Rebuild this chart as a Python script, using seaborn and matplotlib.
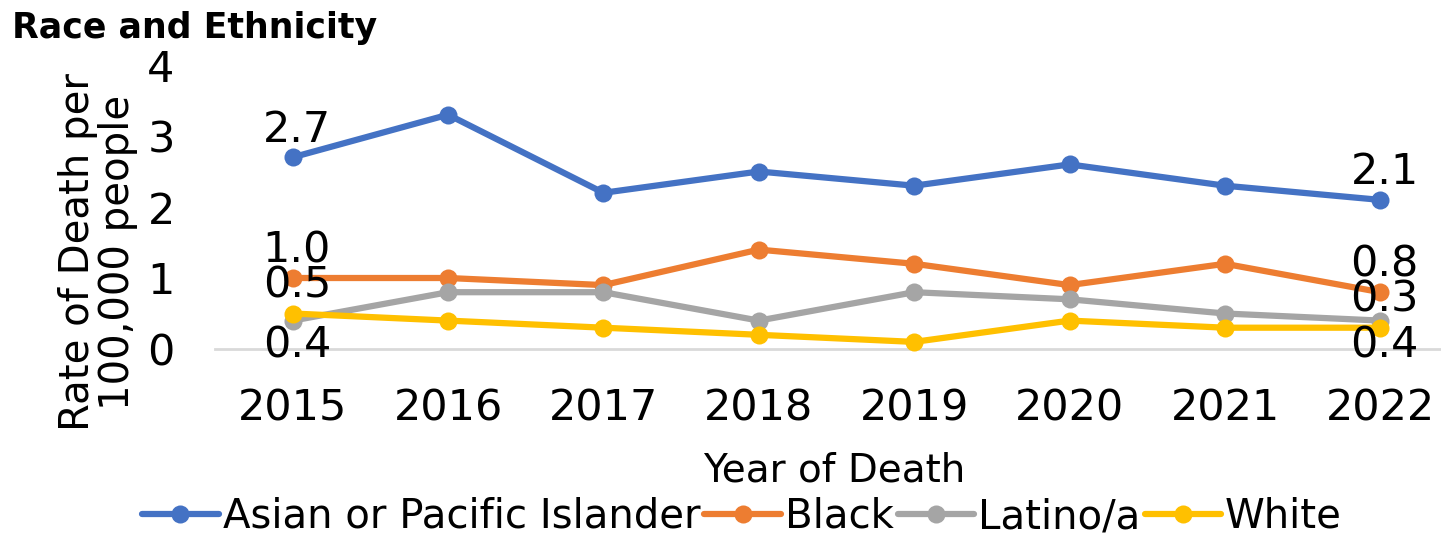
import matplotlib
matplotlib.use('Agg')
from matplotlib import pyplot as plt
import seaborn as sns
import pandas as pd

years = ['2015', '2016', '2017', '2018', '2019', '2020', '2021', '2022']
asian = [2.7, 3.3, 2.2, 2.5, 2.3, 2.6, 2.3, 2.1]
black = [1.0, 1.0, 0.9, 1.4, 1.2, 0.9, 1.2, 0.8]
latino = [0.4, 0.8, 0.8, 0.4, 0.8, 0.7, 0.5, 0.4]
white = [0.5, 0.4, 0.3, 0.2, 0.1, 0.4, 0.3, 0.3]
groups = ['Asian or Pacific Islander', 'Black', 'Latino/a', 'White']
colors = ['#4472C4', '#ED7D31', '#A5A5A5', '#FFC000']

rows = []
for g, vals in zip(groups, [asian, black, latino, white]):
    for y, v in zip(years, vals):
        rows.append([y, g, v])
df = pd.DataFrame(rows, columns=['Year', 'Group', 'Rate'])

sns.set_style('white')
plt.rcParams['font.family'] = ['DejaVu Sans']
plt.rcParams['text.color'] = 'black'
plt.rcParams['xtick.color'] = 'black'
plt.rcParams['ytick.color'] = 'black'
plt.rcParams['axes.labelcolor'] = 'black'

fig = plt.figure(figsize=(14.41, 5.37), dpi=100)
ax = fig.add_axes([215 / 1441, 1 - 349 / 537, 1 - 215 / 1441, (349 - 65) / 537])

sns.lineplot(data=df, x='Year', y='Rate', hue='Group', palette=colors,
             marker='o', markersize=13, markeredgewidth=0, linewidth=4.5,
             ax=ax, clip_on=False, legend=True)

ax.set_ylim(0, 4)
ax.set_xlim(-0.5, 7.39)
ax.set_yticks([0, 1, 2, 3, 4])
ax.tick_params(axis='both', labelsize=31, length=0)
ax.tick_params(axis='x', pad=28)
ax.tick_params(axis='y', pad=29)
for s in ['top', 'right', 'left']:
    ax.spines[s].set_visible(False)
ax.spines['bottom'].set_color('#D9D9D9')
ax.spines['bottom'].set_linewidth(2)
ax.spines['bottom'].set_zorder(0)

ax.set_xlabel('Year of Death', fontsize=28)
ax.xaxis.set_label_coords(0.505, -0.36)
ax.set_ylabel('Rate of Death per\n100,000 people', fontsize=29, linespacing=1.0)
ax.yaxis.set_label_coords(-0.063, 0.34)

# data labels at first and last year
label_specs = [(asian, 'above'), (black, 'above'), (white, 'above'), (latino, 'below')]
for vals, where in label_specs:
    for i in [0, len(years) - 1]:
        dy = 20 if where == 'above' else -18
        ax.annotate(f'{vals[i]:.1f}', (i, vals[i]), xytext=(3, dy),
                    textcoords='offset points', ha='center', va='center',
                    fontsize=31, annotation_clip=False)

fig.text(12 / 1441, 1 - 28 / 537, 'Race and Ethnicity', fontsize=25,
         fontweight='bold', ha='left', va='center')

handles, labels = ax.get_legend_handles_labels()
ax.legend(handles, labels, loc='center', bbox_to_anchor=(742 / 1441, 20 / 537),
          bbox_transform=fig.transFigure, ncol=4, frameon=False, fontsize=29,
          handlelength=1.9, handletextpad=0.1, columnspacing=0.1,
          borderpad=0, borderaxespad=0)

fig.savefig('out.png', dpi=100)
